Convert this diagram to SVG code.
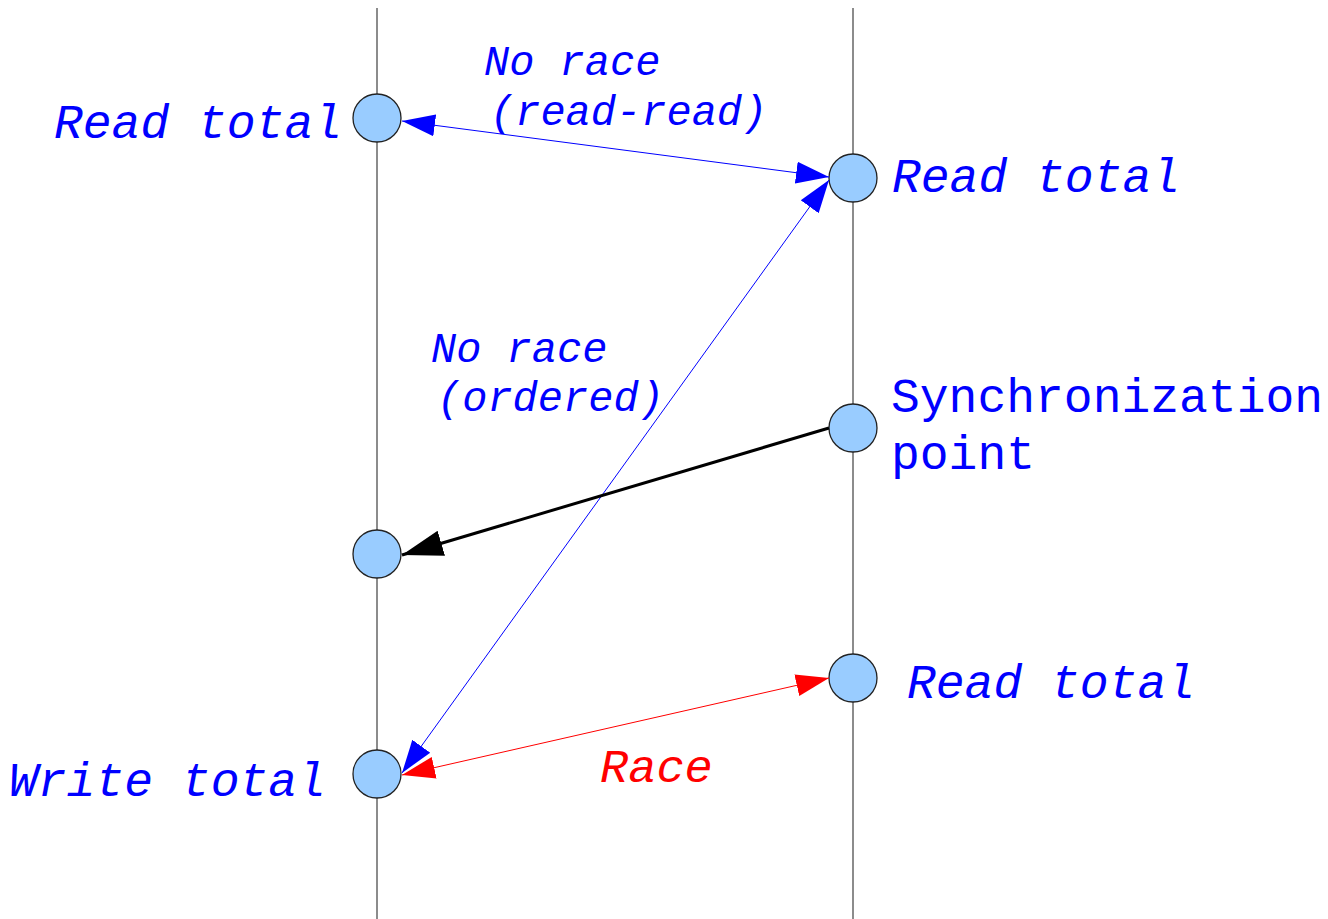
<svg xmlns="http://www.w3.org/2000/svg" width="1328" height="919" viewBox="0 0 1328 919">
<style>
.life{stroke:#666;stroke-width:1.5;fill:none}
.node{fill:#99ccff;stroke:#222;stroke-width:1.3}
.t{font-family:"Liberation Mono","Courier New",monospace;font-size:48px;fill:#0000ff}
.s{font-size:42px}
.i{font-style:italic}
.blue{stroke:#0000ff;stroke-width:1;fill:none}
.red{stroke:#ff0000;stroke-width:1;fill:none}
.black{stroke:#000;stroke-width:3;fill:none}
</style>
<defs>
<marker id="ab" markerUnits="userSpaceOnUse" markerWidth="34" markerHeight="24" refX="33" refY="12" orient="auto-start-reverse" viewBox="0 0 34 24"><path d="M0,1 L33,12 L0,23 z" fill="#0000ff"/></marker>
<marker id="ar" markerUnits="userSpaceOnUse" markerWidth="34" markerHeight="24" refX="33" refY="12" orient="auto-start-reverse" viewBox="0 0 34 24"><path d="M0,1 L33,12 L0,23 z" fill="#ff0000"/></marker>
<marker id="ak" markerUnits="userSpaceOnUse" markerWidth="42" markerHeight="28" refX="41" refY="14" orient="auto" viewBox="0 0 42 28"><path d="M0,1 L41,14 L0,27 z" fill="#000"/></marker>
</defs>
<g id="lifelines">
<line class="life" x1="377" y1="8" x2="377" y2="919"/>
<line class="life" x1="853" y1="8" x2="853" y2="919"/>
</g>
<g id="n1"><circle class="node" cx="377" cy="118" r="24"/></g>
<g id="n2"><circle class="node" cx="853" cy="178" r="24"/></g>
<g id="n3"><circle class="node" cx="853" cy="428" r="24"/></g>
<g id="n4"><circle class="node" cx="377" cy="554" r="24"/></g>
<g id="n5"><circle class="node" cx="853" cy="678" r="24"/></g>
<g id="n6"><circle class="node" cx="377" cy="774" r="24"/></g>
<g id="connectors">
<line class="blue" x1="402" y1="121" x2="829" y2="177" marker-start="url(#ab)" marker-end="url(#ab)"/>
<line class="blue" x1="829" y1="180" x2="402" y2="773" marker-start="url(#ab)" marker-end="url(#ab)"/>
<line class="black" x1="829" y1="428" x2="402" y2="555" marker-end="url(#ak)"/>
<line class="red" x1="829" y1="678" x2="402" y2="775" marker-start="url(#ar)" marker-end="url(#ar)"/>
</g>
<g id="labels">
<text class="t i" x="54" y="138">Read total</text>
<text class="t i s" x="484" y="75">No race</text>
<text class="t i s" x="490" y="125">(read-read)</text>
<text class="t i" x="892" y="192">Read total</text>
<text class="t i s" x="431" y="362">No race</text>
<text class="t i s" x="437" y="411">(ordered)</text>
<text class="t" x="891" y="412">Synchronization</text>
<text class="t" x="891" y="469">point</text>
<text class="t i" x="907" y="698">Read total</text>
<text class="t i" x="600" y="782" style="fill:#ff0000;font-size:47px">Race</text>
<text class="t i" x="9" y="796">Write total</text>
</g>
</svg>
